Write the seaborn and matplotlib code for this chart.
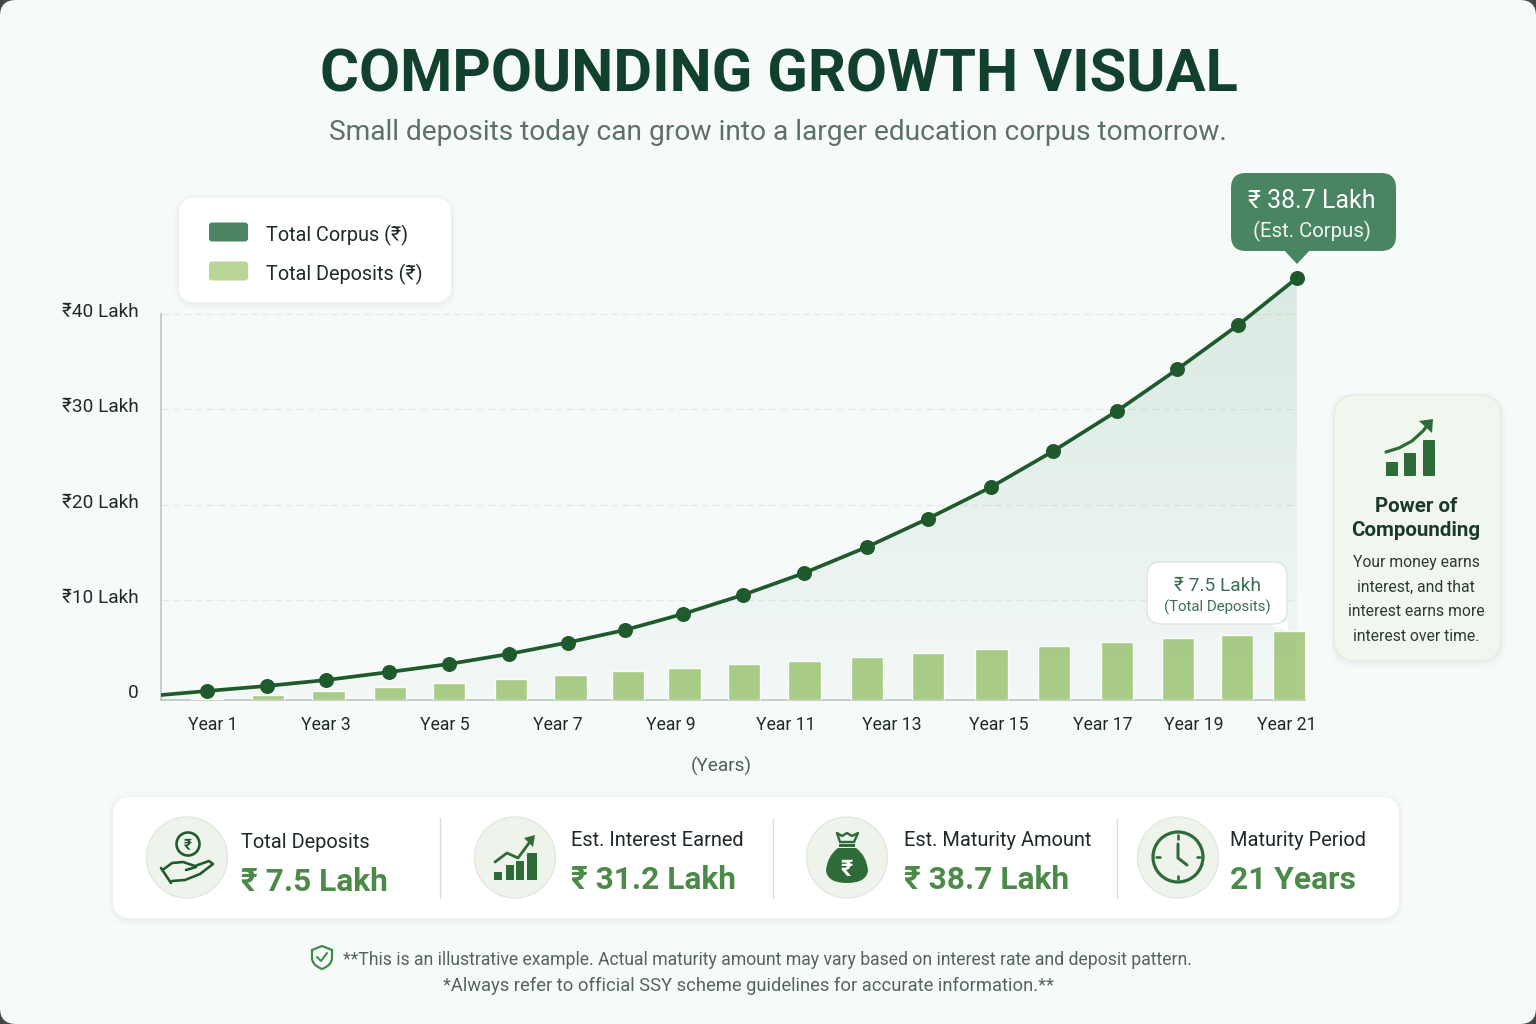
import numpy as np
import pandas as pd
import matplotlib
matplotlib.use("Agg")
import matplotlib.pyplot as plt
from matplotlib.patches import FancyBboxPatch, Polygon, Circle, Rectangle, PathPatch
from matplotlib.path import Path
from matplotlib.transforms import ScaledTranslation
import seaborn as sns

# ---- chart data (amounts in ₹ Lakh) ----
corpus_slots = [0.00, 0.99, 1.97, 3.01, 4.00, 4.99, 5.96, 6.90, 7.86, 8.85,
                9.86, 10.90, 11.91, 12.95, 13.98, 15.03, 16.02, 17.03, 18.00]
corpus_lakh = [0.37, 0.84, 1.39, 2.13, 2.88, 3.81, 4.87, 6.03, 7.52, 9.28,
               11.32, 13.74, 16.38, 19.30, 22.65, 26.36, 30.21, 34.34, 38.70]
deposit_slots = [0.00, 1.01, 2.01, 3.02, 4.00, 5.02, 6.00, 6.95, 7.89, 8.87,
                 9.87, 10.90, 11.91, 12.96, 13.99, 15.03, 16.04, 17.01, 17.88]
deposit_lakh = [0.11, 0.54, 0.96, 1.39, 1.82, 2.25, 2.68, 3.11, 3.48, 3.86,
                4.29, 4.72, 5.14, 5.52, 5.89, 6.32, 6.70, 7.07, 7.50]
year_labels = ["Year 1", "Year 3", "Year 5", "Year 7", "Year 9", "Year 11",
               "Year 13", "Year 15", "Year 17", "Year 19", "Year 21"]
year_slots = [0.10, 1.97, 3.92, 5.80, 7.66, 9.55, 11.31, 13.07, 14.79, 16.29, 17.84]
axis_ticks = [0, 10, 20, 30, 40]
axis_labels = ["0", "₹10 Lakh", "₹20 Lakh", "₹30 Lakh", "₹40 Lakh"]
legend_names = ["Total Corpus (₹)", "Total Deposits (₹)"]
summary_names = ["Total Deposits", "Est. Interest Earned", "Est. Maturity Amount", "Maturity Period"]
summary_values = ["₹ 7.5 Lakh", "₹ 31.2 Lakh", "₹ 38.7 Lakh", "21 Years"]

DARK = "#11402c"
LINE = "#1f5a2c"
BAR = "#abcd87"
TEAL = "#4a8563"
VALUE = "#4c8a4a"
INK = "#1f2a2a"
BG = "#f6faf9"
FONT = ["Roboto", "Noto Sans", "DejaVu Sans"]

sns.set_theme(style="white")
plt.rcParams["font.family"] = FONT

W, H = 1536, 1024
fig = plt.figure(figsize=(W / 100, H / 100), dpi=100, facecolor="#3f4a48")

# pixel-addressed helper layers: one behind the plot, one above it
back = fig.add_axes([0, 0, 1, 1], zorder=0)
front = fig.add_axes([0, 0, 1, 1], zorder=10)
for layer in (back, front):
    layer.set_xlim(0, W)
    layer.set_ylim(H, 0)
    layer.axis("off")
    layer.patch.set_alpha(0)


def px(size):
    return size * 0.72


def card(layer, x0, y0, x1, y1, r, fc, ec="none", lw=1.0, shadow=True, z=2):
    if shadow:
        for grow, alpha in ((6, 0.008), (4, 0.012), (2, 0.016)):
            layer.add_patch(FancyBboxPatch((x0 - grow, y0 - grow + 2), x1 - x0 + 2 * grow, y1 - y0 + 2 * grow,
                                           boxstyle=f"round,pad=0,rounding_size={r + grow}",
                                           fc="#2b4a3a", ec="none", alpha=alpha, zorder=z))
    layer.add_patch(FancyBboxPatch((x0, y0), x1 - x0, y1 - y0, boxstyle=f"round,pad=0,rounding_size={r}",
                                   fc=fc, ec=ec, lw=lw, zorder=z + 0.1))


def label(layer, x, y, s, size, color=INK, weight="normal", ha="left", family=None):
    layer.text(x, y, s, fontsize=px(size), color=color, fontweight=weight, ha=ha, va="center_baseline",
               family=family or FONT, zorder=6)


def stroke(layer, pts, color=LINE, lw=3.0, z=5):
    xs, ys = zip(*pts)
    layer.plot(xs, ys, color=color, lw=lw * 0.72, solid_capstyle="round", solid_joinstyle="round", zorder=z)


# page background
back.add_patch(FancyBboxPatch((0, 0), W, H, boxstyle="round,pad=0,rounding_size=16", fc=BG, ec="none"))

label(front, 778.5, 70, "COMPOUNDING GROWTH VISUAL", 59.6, DARK, "bold", "center")
label(front, 778, 130, "Small deposits today can grow into a larger education corpus tomorrow.", 28.15, "#5f6f6d", ha="center")

# ---- plot axes: one y scale for the axis, one each for the corpus line and deposit bars ----
L, R, TOP, BASE = 161, 1305, 258, 700
ZERO = 695
ax = fig.add_axes([L / W, 1 - BASE / H, (R - L) / W, (BASE - TOP) / H], zorder=1)
ax.patch.set_alpha(0)
slot_px = 60.55
ax.set_xlim((L - 207) / slot_px, (R - 207) / slot_px)
tick_scale = (ZERO - 314) / 40
ax.set_ylim((ZERO - BASE) / tick_scale, (ZERO - TOP) / tick_scale)

ax.hlines(axis_ticks[1:], ax.get_xlim()[0], corpus_slots[-1], colors="#e4ebe7", linewidth=0.9,
          linestyles=(0, (6, 3)), zorder=1)
ax.set_yticks(axis_ticks, axis_labels)
ax.set_xticks(year_slots, year_labels)
ax.tick_params(axis="y", length=0, labelsize=px(19), labelcolor=INK, pad=px(22.5))
ax.tick_params(axis="x", length=0, labelsize=px(17.6), labelcolor=INK, pad=px(16.5))
shift = ScaledTranslation(0, 4 / 100, fig.dpi_scale_trans)
for tick in ax.get_yticklabels():
    tick.set_transform(tick.get_transform() + shift)
ax.set_xlabel("(Years)", fontsize=px(19), color="#4f5f5c")
ax.xaxis.set_label_coords((721 - L) / (R - L), -(757 - BASE) / (BASE - TOP))
for side in ("top", "right"):
    ax.spines[side].set_visible(False)
for side in ("left", "bottom"):
    ax.spines[side].set_color("#b9c1bd")
    ax.spines[side].set_linewidth(1.1)
ax.spines["left"].set_bounds(ax.get_ylim()[0], 40)

# deposit bars
axb = ax.twinx()
axb.set_ylim(0, (BASE - TOP) / ((BASE - 631) / deposit_lakh[-1]))
deposits = pd.DataFrame({"slot": deposit_slots, "lakh": deposit_lakh})
sns.barplot(data=deposits, x="slot", y="lakh", native_scale=True, color=BAR, saturation=1,
            width=(32.5 / slot_px) / float(np.min(np.diff(deposit_slots))), ax=axb, zorder=3)
axb.set_xlim(ax.get_xlim())
axb.set_axis_off()

# corpus line with shaded area underneath
axl = ax.twinx()
line_scale = (ZERO - 278) / corpus_lakh[-1]
axl.set_ylim((ZERO - BASE) / line_scale, (ZERO - TOP) / line_scale)
axl.set_xlim(ax.get_xlim())
line_x = [ax.get_xlim()[0]] + corpus_slots
line_y = [0.0] + corpus_lakh
area = axl.fill_between(line_x, line_y, axl.get_ylim()[0], facecolor="none", edgecolor="none")
shade = np.zeros((256, 2, 4))
shade[..., :3] = matplotlib.colors.to_rgb("#4f9a70")
shade[..., 3] = np.linspace(0.02, 0.18, 256)[:, None]
image = axl.imshow(shade, origin="lower", aspect="auto", zorder=0,
                   extent=(*axl.get_xlim(), *axl.get_ylim()))
image.set_clip_path(area.get_paths()[0], transform=axl.transData)
axl.set_xlim(ax.get_xlim())
sns.lineplot(x=line_x, y=line_y, color=LINE, linewidth=px(3.7), ax=axl, errorbar=None, sort=False, zorder=4)
sns.scatterplot(x=corpus_slots, y=corpus_lakh, color=LINE, s=px(15) ** 2, linewidth=0, ax=axl, zorder=5)
axl.set_axis_off()
axb.set_zorder(2)
axl.set_zorder(3)
axl.patch.set_alpha(0)
axb.patch.set_alpha(0)

# legend
card(back, 179, 198, 451, 302, 16, "white")
for y, color, name in zip((232, 271), ("#4d8564", "#b9d696"), legend_names):
    back.add_patch(FancyBboxPatch((209, y - 9.5), 39, 19, boxstyle="round,pad=0,rounding_size=3", fc=color, ec="none", zorder=5))
    label(back, 266, y + 1, name, 19.9)

# corpus callout
front.add_patch(Polygon([(1283, 249), (1311, 249), (1297, 264)], fc=TEAL, ec="none", zorder=5))
card(front, 1231, 173, 1396, 251, 15, TEAL, shadow=False, z=5)
label(front, 1312, 198, "₹ 38.7 Lakh", 25, "white", ha="center")
label(front, 1312, 229, "(Est. Corpus)", 20.4, "#eef5f0", ha="center")

# deposits callout
front.add_patch(Polygon([(1262, 622), (1288, 622), (1288, 631)], fc="white", ec="none", zorder=5))
card(front, 1147, 562, 1287, 624, 14, "white", ec="#dde5e0", shadow=False, z=5)
label(front, 1217, 584, "₹ 7.5 Lakh", 19.2, "#3d6f54", ha="center")
label(front, 1217, 606, "(Total Deposits)", 15, "#3d6f54", ha="center")

# side note
card(back, 1334, 395, 1501, 661, 22, "#f1f6ef", ec="#e3ebe3")
for x0, top in ((1386, 462), (1404, 453), (1423, 440)):
    back.add_patch(FancyBboxPatch((x0, top), 12, 476 - top, boxstyle="round,pad=0,rounding_size=1", fc="#2f6b38", ec="none", zorder=5))
stroke(back, [(1386, 452), (1399, 448), (1412, 441), (1423, 431), (1430, 422)], "#2f6b38", 3.2)
back.add_patch(Polygon([(1433, 419), (1419, 421), (1432, 433)], fc="#2f6b38", ec="none", zorder=5))
label(back, 1416, 504, "Power of", 20.5, "#1c3a2b", "bold", "center")
label(back, 1416, 529, "Compounding", 20.5, "#1c3a2b", "bold", "center")
for y, s in zip((561, 586, 610, 635), ("Your money earns", "interest, and that", "interest earns more", "interest over time.")):
    label(back, 1416, y, s, 15.8, "#2c3a36", ha="center")

# summary strip
card(back, 113, 797, 1399, 918, 18, "white")
for x in (440, 773, 1117):
    back.plot([x, x], [818, 898], color="#d9dedb", lw=1.0, zorder=5)
for cx in (187, 515, 847, 1178):
    back.add_patch(Circle((cx, 857.5), 40.5, fc="#eef4ec", ec="#e2e9e1", lw=1.0, zorder=4))
for x, yt, yv, name, value in zip((241, 571, 904, 1230), (841, 839, 839, 839), (879, 877, 877, 877),
                                  summary_names, summary_values):
    label(back, x, yt, name, 20)
    label(back, x, yv, value, 31.6, VALUE, "bold")

# hand with a coin
back.add_patch(Circle((188, 844), 11.5, fc="none", ec=LINE, lw=px(2.6), zorder=5))
label(back, 188, 844, "₹", 15, LINE, "bold", "center")
stroke(back, [(164, 869), (172, 863), (183, 862), (195, 866), (209, 861), (213, 864), (200, 874), (185, 880), (172, 881)], LINE, 2.6)
stroke(back, [(186, 870), (196, 867)], LINE, 2.6)
stroke(back, [(161, 868), (171, 883)], LINE, 2.6)

# growth bars
for x0, top, w in ((494, 872, 8), (505.5, 865, 8), (516, 861, 8), (527, 853, 9.5)):
    back.add_patch(Rectangle((x0, top), w, 880 - top, fc="#2f6b38", ec="none", zorder=5))
stroke(back, [(495, 862), (507, 853), (518, 858), (532, 839)], "#2f6b38", 2.8)
back.add_patch(Polygon([(535, 835), (524, 838), (533, 847)], fc="#2f6b38", ec="none", zorder=5))

# money bag
bag = Path([(838, 848), (827, 856), (826, 871), (828, 883), (847, 883), (866, 883), (868, 871), (867, 856), (856, 848), (838, 848)],
           [Path.MOVETO, Path.CURVE3, Path.CURVE3, Path.CURVE3, Path.CURVE3, Path.CURVE3, Path.CURVE3, Path.CURVE3, Path.CURVE3, Path.CLOSEPOLY])
back.add_patch(PathPatch(bag, fc="#2f6b38", ec="none", zorder=5))
stroke(back, [(837, 833), (842, 836), (847, 833), (852, 836), (858, 833), (854, 842), (840, 842), (837, 833)], "#2f6b38", 2.4)
back.add_patch(Rectangle((839, 844), 16, 3, fc="#2f6b38", ec="none", zorder=5))
label(back, 847, 867, "₹", 23, "white", "bold", "center")

# clock
back.add_patch(Circle((1178, 857), 25, fc="none", ec="#2f6b38", lw=px(3.2), zorder=5))
for dx, dy in ((0, -25), (0, 25), (-25, 0), (25, 0)):
    stroke(back, [(1178 + dx * 0.88, 857 + dy * 0.88), (1178 + dx * 0.74, 857 + dy * 0.74)], "#2f6b38", 2.6)
stroke(back, [(1178, 844), (1178, 858), (1187, 865)], "#2f6b38", 3.0)

# footnote with a shield mark
shield = Path([(322, 946), (332, 950), (332, 958), (332, 965), (322, 969), (312, 965), (312, 958), (312, 950), (322, 946)],
              [Path.MOVETO, Path.LINETO, Path.LINETO, Path.CURVE3, Path.CURVE3, Path.CURVE3, Path.CURVE3, Path.LINETO, Path.CLOSEPOLY])
back.add_patch(PathPatch(shield, fc="none", ec="#3f8a4a", lw=px(2.2), zorder=5))
stroke(back, [(317, 957), (321, 961), (327, 953)], "#3f8a4a", 2.0)
label(back, 767, 958, "**This is an illustrative example. Actual maturity amount may vary based on interest rate and deposit pattern.", 17.65, "#55645f", ha="center")
label(back, 748.5, 984, "*Always refer to official SSY scheme guidelines for accurate information.**", 18.4, "#55645f", ha="center")

fig.savefig("out.png", dpi=100, facecolor=fig.get_facecolor())
